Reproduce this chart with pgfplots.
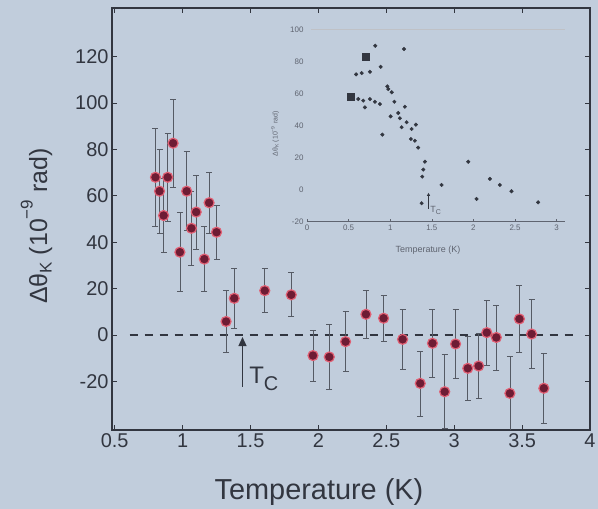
\documentclass[border=0pt]{standalone}
\usepackage{fontspec}
\setmainfont{Liberation Sans}
\usepackage{pgfplots}
\pgfplotsset{compat=1.18}
\usetikzlibrary{arrows.meta}
\definecolor{bg}{RGB}{193,205,220}
\definecolor{ink}{RGB}{50,54,64}
\definecolor{soft}{RGB}{95,100,112}
\definecolor{dot}{RGB}{110,28,52}
\definecolor{ring}{RGB}{225,95,115}
\definecolor{bar}{RGB}{85,90,100}
\begin{document}
\begin{tikzpicture}
\fill[bg] (0bp,0bp) rectangle (598bp,509bp);
\useasboundingbox (0bp,0bp) rectangle (598bp,509bp);

% main panel
\begin{axis}[
  at={(112bp,79bp)}, anchor=south west, scale only axis,
  width=478bp, height=422bp,
  xmin=0.48, xmax=4, ymin=-41, ymax=141,
  xtick={0.5,1,1.5,2,2.5,3,3.5,4},
  ytick={-20,0,20,40,60,80,100,120},
  tick align=inside, major tick length=5bp,
  axis line style={ink, line width=1.6bp},
  tick style={ink, line width=0.8bp},
  ticklabel style={font=\fontsize{20}{20}\selectfont, text=ink},
  /pgf/number format/assume math mode=true,
  xlabel={Temperature (K)},
  xlabel style={font=\fontsize{29}{29}\selectfont, text=ink,
    at={(axis description cs:0.433,-0.147)}, anchor=center},
  ylabel={Δθ\raisebox{-0.35ex}{\fontsize{17}{17}\selectfont K} (10\raisebox{1.1ex}{\fontsize{17}{17}\selectfont −9} rad)},
  ylabel style={font=\fontsize{25}{25}\selectfont, text=ink,
    at={(axis description cs:-0.158,0.483)}, anchor=center},
]
\addplot[ink, line width=1.3bp, dash pattern=on 8bp off 7bp]
  coordinates {(0.61,0) (3.9,0)};

\addplot[only marks, mark=*, mark size=5bp,
  mark options={fill=dot, draw=ring, line width=1.2bp},
  error bars/.cd, y dir=both, y explicit,
  error bar style={bar, line width=0.7bp},
  error mark options={rotate=90, mark size=3bp, bar, line width=0.7bp}]
coordinates {
  (0.80,68) +- (0,21)
  (0.83,62) +- (0,18)
  (0.86,51.5) +- (0,16)
  (0.89,68) +- (0,19)
  (0.93,82.7) +- (0,19)
  (0.98,35.7) +- (0,17)
  (1.03,62) +- (0,17)
  (1.065,46) +- (0,16)
  (1.10,53) +- (0,16)
  (1.16,32.7) +- (0,14)
  (1.195,57) +- (0,13)
  (1.25,44.3) +- (0,11.5)
  (1.32,5.8) +- (0,13.5)
  (1.38,15.8) +- (0,13)
  (1.605,19.1) +- (0,9.5)
  (1.80,17.3) +- (0,9.5)
  (1.96,-8.9) +- (0,11)
  (2.08,-9.5) +- (0,14)
  (2.20,-2.9) +- (0,13)
  (2.35,8.9) +- (0,10.5)
  (2.48,7.2) +- (0,10)
  (2.62,-1.9) +- (0,13)
  (2.75,-20.9) +- (0,14)
  (2.84,-3.6) +- (0,14.5)
  (2.93,-24.5) +- (0,16)
  (3.01,-3.9) +- (0,15)
  (3.10,-14.4) +- (0,14)
  (3.18,-13.4) +- (0,14)
  (3.24,1.0) +- (0,14)
  (3.31,-1.1) +- (0,14)
  (3.41,-25.2) +- (0,16)
  (3.48,6.9) +- (0,14.5)
  (3.57,0.4) +- (0,15)
  (3.66,-23.0) +- (0,15)
};

\draw[ink, line width=1.3bp, -{Triangle[length=9bp,width=8bp]}]
  (axis cs:1.441,-22.4) -- (axis cs:1.441,-0.9);
\node[anchor=west, text=ink, inner sep=0] at (axis cs:1.49,-19)
  {\fontsize{24}{24}\selectfont T\raisebox{-7bp}{\fontsize{20}{20}\selectfont C}};
\end{axis}

% inset
\begin{axis}[
  at={(307bp,287.3bp)}, anchor=south west, scale only axis,
  width=258bp, height=192.4bp,
  xmin=0, xmax=3.1, ymin=-20, ymax=100,
  axis x line*=bottom, axis y line*=left,
  y axis line style={draw=none},
  x axis line style={soft, line width=0.8bp},
  xtick={0,0.5,1,1.5,2,2.5,3},
  ytick={-20,0,20,40,60,80,100},
  ytick style={draw=none},
  xtick style={soft, line width=0.5bp},
  tick align=inside, major tick length=3bp,
  ticklabel style={font=\fontsize{8}{8}\selectfont, text=soft},
  /pgf/number format/assume math mode=true,
  xlabel={Temperature (K)},
  xlabel style={font=\fontsize{9}{9}\selectfont, text=soft,
    at={(axis description cs:0.469,-0.147)}, anchor=center},
  ylabel={Δθ\textsubscript{K} (10\textsuperscript{−9} rad)},
  ylabel style={font=\fontsize{7}{7}\selectfont, text=soft,
    at={(axis description cs:-0.124,0.456)}, anchor=center},
]
\draw[soft!40, line width=0.6bp] (axis cs:0.05,100) -- (axis cs:3.1,100);

\addplot[only marks, mark=*, mark size=1.8bp, mark options={fill=ink, draw=ink}]
coordinates {
  (0.82,89.7) (1.165,87.7) (0.59,71.9) (0.657,72.7) (0.756,73.5)
  (0.885,76.6) (0.616,56.5) (0.676,55.5) (0.756,56.5) (0.816,54.8)
  (0.876,53.4) (0.696,51.3) (0.965,64.4) (1.018,60.7) (0.977,62.7)
  (1.05,54.8) (1.176,51.7) (0.905,34.3) (1.005,45.7) (1.096,47.8)
  (1.116,44.5) (1.137,38.9) (1.197,42) (1.257,37.8) (1.308,40.5)
  (1.248,31.6) (1.296,30.5) (1.336,26.2) (1.417,17.4) (1.397,12.5)
  (1.385,8.1) (1.377,-8.5) (1.617,2.9) (1.937,17.4) (2.037,-5.8)
  (2.197,6.7) (2.317,2.9) (2.457,-1.0) (2.777,-7.9)
};
\addplot[only marks, mark=square*, mark size=3.5bp, mark options={fill=ink, draw=ink}]
coordinates {(0.705,82.9) (0.525,57.9)};

\draw[ink, line width=0.8bp, -{Triangle[length=3bp,width=3bp]}]
  (axis cs:1.46,-12) -- (axis cs:1.46,-2);
\node[anchor=west, text=soft, inner sep=0] at (axis cs:1.48,-13)
  {\fontsize{9}{9}\selectfont T\raisebox{-2bp}{\fontsize{7}{7}\selectfont C}};
\end{axis}
\end{tikzpicture}
\end{document}
